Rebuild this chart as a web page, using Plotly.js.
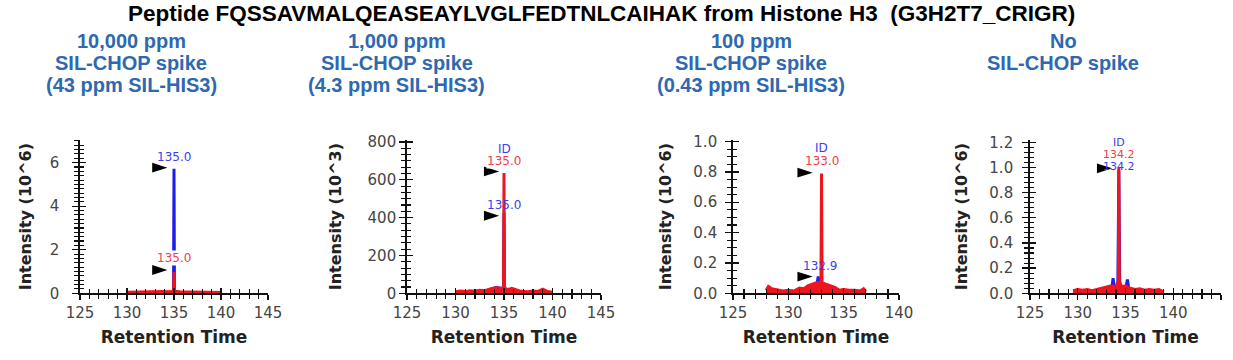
<!DOCTYPE html>
<html>
<head>
<meta charset="utf-8">
<script src="https://cdn.plot.ly/plotly-3.0.1.min.js"></script>
<style>html,body{margin:0;padding:0;background:#fff;}#chart{width:1233px;height:360px;}</style>
</head>
<body>
<div id="chart"></div>
<script>
// ---------- DATA ----------
const mainTitle = "Peptide FQSSAVMALQEASEAYLVGLFEDTNLCAIHAK from Histone H3  (G3H2T7_CRIGR)";
const panelTitles = [
  ["10,000 ppm", "SIL-CHOP spike", "(43 ppm SIL-HIS3)"],
  ["1,000 ppm", "SIL-CHOP spike", "(4.3 ppm SIL-HIS3)"],
  ["100 ppm", "SIL-CHOP spike", "(0.43 ppm SIL-HIS3)"],
  ["No", "SIL-CHOP spike"]
];
const yTitles = ["Intensity (10^6)", "Intensity (10^3)", "Intensity (10^6)", "Intensity (10^6)"];
const xTitle = "Retention Time";

// Panel 1 (10,000 ppm), intensity x10^6
const p1RedRT  = [130, 130.8, 131.5, 132.3, 133, 133.8, 134.5, 134.95, 135.0, 135.05, 135.6, 136.4, 137.2, 138, 138.8, 139.5, 140];
const p1RedInt = [0.05, 0.06, 0.05, 0.07, 0.06, 0.08, 0.07, 0.1, 0.98, 0.1, 0.07, 0.06, 0.07, 0.05, 0.06, 0.05, 0.04];
const p1BlueRT  = [134.95, 135.0, 135.05];
const p1BlueInt = [0.05, 5.72, 0.05];
const p1MarkRT  = [134.3, 134.3];
const p1MarkInt = [5.77, 1.07];

// Panel 2 (1,000 ppm), intensity x10^3
const p2RedRT  = [130, 130.5, 131, 131.5, 132, 132.5, 133, 133.4, 133.8, 134.2, 134.6, 134.95, 135.0, 135.05, 135.4, 135.8, 136.2, 136.6, 137, 137.5, 138, 138.5, 139, 139.5, 140];
const p2RedInt = [8, 12, 9, 14, 11, 16, 14, 22, 26, 30, 24, 30, 636, 28, 20, 26, 18, 12, 10, 8, 12, 10, 22, 9, 5];
const p2BlueRT  = [131, 131.6, 132.2, 133, 133.6, 134.2, 134.95, 135.0, 135.05, 135.6, 136.5];
const p2BlueInt = [3, 8, 4, 10, 22, 30, 25, 425, 25, 8, 3];
const p2MarkRT  = [134.5, 134.5];
const p2MarkInt = [644, 410];

// Panel 3 (100 ppm), intensity x10^6
const p3RedRT  = [128, 128.2, 128.5, 129, 129.5, 130, 130.5, 131, 131.4, 131.8, 132.2, 132.6, 132.95, 133.0, 133.05, 133.4, 133.8, 134.2, 134.6, 135, 135.5, 136, 136.5, 136.8, 137];
const p3RedInt = [0.02, 0.045, 0.03, 0.02, 0.015, 0.02, 0.015, 0.035, 0.03, 0.05, 0.06, 0.075, 0.08, 0.79, 0.07, 0.06, 0.05, 0.04, 0.02, 0.025, 0.02, 0.02, 0.015, 0.03, 0.01];
const p3BlueRT  = [132.3, 132.55, 132.7, 132.85, 133.1];
const p3BlueInt = [0.01, 0.04, 0.11, 0.04, 0.01];
const p3MarkRT  = [132.2, 132.2];
const p3MarkInt = [0.795, 0.11];

// Panel 4 (no spike), intensity x10^6
const p4RedRT  = [129.5, 130, 130.5, 131, 131.5, 132, 132.5, 133, 133.5, 134.0, 134.25, 134.3, 134.35, 134.6, 135, 135.5, 136, 136.5, 137, 137.5, 138, 138.5, 139];
const p4RedInt = [0.02, 0.03, 0.025, 0.03, 0.02, 0.03, 0.04, 0.05, 0.06, 0.05, 0.1, 1.0, 0.1, 0.05, 0.06, 0.04, 0.03, 0.035, 0.025, 0.03, 0.025, 0.03, 0.01];
const p4BlueRT  = [133.3, 133.55, 133.7, 133.85, 134.2, 134.3, 134.4, 135.0, 135.2, 135.4];
const p4BlueInt = [0.01, 0.03, 0.12, 0.03, 0.05, 0.98, 0.05, 0.03, 0.11, 0.01];
const p4MarkRT  = [133.6];
const p4MarkInt = [0.993];

// peak labels: [panel, text, rt, intensity, colour key, font size]
const peakLabels = [
  [1, "135.0", 135.0, 6.25, "blue", 12],
  [1, "135.0", 135.0, 1.6, "red", 12],
  [2, "ID", 135.0, 765, "blue", 12],
  [2, "135.0", 135.0, 700, "red", 12],
  [2, "135.0", 135.0, 468, "blue", 12],
  [3, "ID", 133.0, 0.955, "blue", 12],
  [3, "133.0", 133.0, 0.87, "red", 12],
  [3, "132.9", 132.9, 0.18, "blue", 12],
  [4, "ID", 134.35, 1.2, "blue", 11],
  [4, "134.2", 134.35, 1.105, "red", 11],
  [4, "134.2", 134.35, 1.01, "blue", 11]
];

const xRanges = [[125, 145], [125, 145], [125, 140], [125, 145]];
const yRanges = [[0, 7.04], [0, 810], [0, 1.01], [0, 1.218]];
const yDticks = [2, 200, 0.2, 0.2];
const yMinorDticks = [0.2, 200 / 6, 0.05, 0.04];
const yTickFormats = ["", "", ".1f", ".1f"];

// ---------- STYLE / LAYOUT ----------
const RED = "rgb(238,22,30)";
const BLUE = "rgb(30,30,235)";
const LABEL_RED = "rgb(240,60,80)";
const LABEL_BLUE = "rgb(60,60,240)";
const SUB_BLUE = "rgb(46,104,176)";

const panels = [
  {red: [p1RedRT, p1RedInt], blue: [p1BlueRT, p1BlueInt], mark: [p1MarkRT, p1MarkInt]},
  {red: [p2RedRT, p2RedInt], blue: [p2BlueRT, p2BlueInt], mark: [p2MarkRT, p2MarkInt]},
  {red: [p3RedRT, p3RedInt], blue: [p3BlueRT, p3BlueInt], mark: [p3MarkRT, p3MarkInt]},
  {red: [p4RedRT, p4RedInt], blue: [p4BlueRT, p4BlueInt], mark: [p4MarkRT, p4MarkInt]}
];

const W = 1233, H = 360;
const xPix = [[80, 268], [407, 601], [733, 899], [1030, 1221]];
const yPixTop = 140, yPixBottom = 293.3;
const subCenters = [131, 397, 751, 1063];
const yLabelStandoff = [10, 0, 5, 6];
const yTitleStandoff = [14, 22, 18, 18];

const tickFont = {family: "DejaVu Sans, sans-serif", size: 15, color: "#454545"};
const titleFont = {family: "DejaVu Sans, sans-serif", size: 16, color: "#222", weight: 700};
const xTitleFont = {family: "DejaVu Sans, sans-serif", size: 17, color: "#222", weight: 700};
const TICKC = "#111";

const data = [];
const layout = {
  width: W, height: H,
  margin: {l: 0, r: 0, t: 0, b: 0},
  paper_bgcolor: "#fff", plot_bgcolor: "rgba(0,0,0,0)",
  showlegend: false,
  annotations: []
};

panels.forEach((p, i) => {
  const n = i + 1, o = i + 5;
  const xs = n === 1 ? "" : String(n);
  const dom = [xPix[i][0] / W, xPix[i][1] / W];
  const ydom = [1 - yPixBottom / H, 1 - yPixTop / H];
  const common = {showgrid: false, zeroline: false, fixedrange: true};
  layout["xaxis" + xs] = Object.assign({}, common, {
    domain: dom, anchor: "y" + xs, range: xRanges[i],
    tickmode: "linear", tick0: 125, dtick: 5, ticks: "outside", ticklen: 5, tickwidth: 1.3, tickcolor: TICKC,
    minor: {tickmode: "linear", tick0: 125, dtick: 1, ticks: "outside", ticklen: 4, tickwidth: 1.2, tickcolor: TICKC},
    showline: true, linecolor: TICKC, linewidth: 1.8,
    tickfont: tickFont,
    title: {text: xTitle, font: xTitleFont, standoff: 10}
  });
  layout["yaxis" + xs] = Object.assign({}, common, {
    domain: ydom, anchor: "x" + xs, range: yRanges[i],
    tickmode: "linear", tick0: 0, dtick: yDticks[i], tickformat: yTickFormats[i],
    ticks: "outside", ticklen: 6, tickwidth: 1.3, tickcolor: TICKC,
    minor: {tickmode: "linear", tick0: 0, dtick: yMinorDticks[i], ticks: "outside", ticklen: 4, tickwidth: 1.1, tickcolor: TICKC},
    showline: true, linecolor: TICKC, linewidth: 1.8,
    tickfont: tickFont, ticklabelstandoff: yLabelStandoff[i],
    title: {text: yTitles[i], font: titleFont, standoff: yTitleStandoff[i]}
  });
  // overlay axes giving the crossing (inside) half of each tick
  layout["xaxis" + o] = Object.assign({}, common, {
    overlaying: "x" + xs, anchor: "y" + xs, side: "bottom", range: xRanges[i],
    tickmode: "linear", tick0: 125, dtick: 5, ticks: "inside", ticklen: 5, tickwidth: 1.3, tickcolor: TICKC,
    minor: {tickmode: "linear", tick0: 125, dtick: 1, ticks: "inside", ticklen: 4, tickwidth: 1.2, tickcolor: TICKC},
    showticklabels: false, showline: false
  });
  layout["yaxis" + o] = Object.assign({}, common, {
    overlaying: "y" + xs, anchor: "x" + xs, side: "left", range: yRanges[i],
    tickmode: "linear", tick0: 0, dtick: yDticks[i], ticks: "inside", ticklen: 6, tickwidth: 1.3, tickcolor: TICKC,
    minor: {tickmode: "linear", tick0: 0, dtick: yMinorDticks[i], ticks: "inside", ticklen: 4, tickwidth: 1.1, tickcolor: TICKC},
    showticklabels: false, showline: false
  });
  // empty traces so the overlay axes belong to real subplots
  data.push({type: "scatter", mode: "none", x: [], y: [], xaxis: "x" + o, yaxis: "y" + xs, hoverinfo: "skip"});
  data.push({type: "scatter", mode: "none", x: [], y: [], xaxis: "x" + xs, yaxis: "y" + o, hoverinfo: "skip"});

  data.push({
    type: "scatter", mode: "lines", x: p.blue[0], y: p.blue[1],
    xaxis: "x" + xs, yaxis: "y" + xs,
    line: {color: BLUE, width: 3}, fill: "tozeroy", fillcolor: BLUE, hoverinfo: "skip"
  });
  data.push({
    type: "scatter", mode: "lines", x: p.red[0], y: p.red[1],
    xaxis: "x" + xs, yaxis: "y" + xs,
    line: {color: RED, width: 3}, fill: "tozeroy", fillcolor: RED, hoverinfo: "skip"
  });
  data.push({
    type: "scatter", mode: "markers", x: p.mark[0], y: p.mark[1],
    xaxis: "x" + xs, yaxis: "y" + xs, cliponaxis: false,
    marker: {symbol: "arrow", angle: 90, size: 16, color: "#000", line: {width: 0}}, hoverinfo: "skip"
  });

  // panel subtitles
  panelTitles[i].forEach((t, k) => {
    layout.annotations.push({
      text: t, xref: "paper", yref: "paper", x: subCenters[i] / W, y: 1 - (41 + 22 * k) / H,
      xanchor: "center", yanchor: "middle", showarrow: false,
      font: {family: "Liberation Sans, Arial, sans-serif", size: 20, color: SUB_BLUE, weight: 700}
    });
  });
});

peakLabels.forEach(([n, t, rt, v, c, fs]) => {
  const xs = n === 1 ? "" : String(n);
  layout.annotations.push({
    text: t, xref: "x" + xs, yref: "y" + xs, x: rt, y: v,
    xanchor: "center", yanchor: "middle", showarrow: false,
    bgcolor: c === "red" ? "#fff" : "rgba(0,0,0,0)", borderpad: 0,
    font: {family: "DejaVu Sans, sans-serif", size: fs, color: c === "red" ? LABEL_RED : LABEL_BLUE}
  });
});

layout.annotations.push({
  text: mainTitle, xref: "paper", yref: "paper", x: 601 / W, y: 1 - 14 / H,
  xanchor: "center", yanchor: "middle", showarrow: false,
  font: {family: "Liberation Sans, Arial, sans-serif", size: 22.5, color: "#000", weight: 700}
});

Plotly.newPlot("chart", data, layout, {displayModeBar: false, staticPlot: true});
</script>
</body>
</html>
